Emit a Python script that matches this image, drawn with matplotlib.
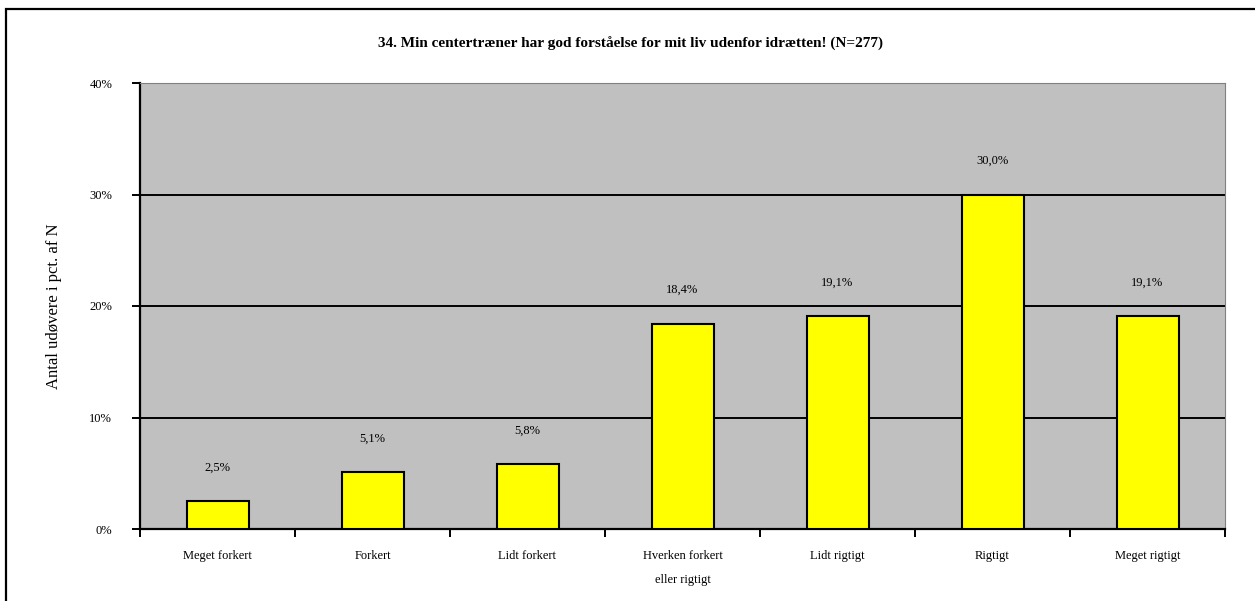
import numpy as np
import matplotlib.pyplot as plt
from matplotlib.patches import Rectangle
from matplotlib.ticker import FixedLocator, NullFormatter

categories = ['Meget forkert', 'Forkert', 'Lidt forkert', 'Hverken forkert\neller rigtigt',
              'Lidt rigtigt', 'Rigtigt', 'Meget rigtigt']
values = [2.5, 5.1, 5.8, 18.4, 19.1, 30.0, 19.1]
value_labels = ['2,5%', '5,1%', '5,8%', '18,4%', '19,1%', '30,0%', '19,1%']
yticks = [0, 10, 20, 30, 40]
ytick_labels = ['0%', '10%', '20%', '30%', '40%']
title = '34. Min centertræner har god forståelse for mit liv udenfor idrætten! (N=277)'
ylabel = 'Antal udøvere i pct. af N'

plt.rcParams['font.family'] = ['Liberation Serif', 'DejaVu Serif']

fig = plt.figure(figsize=(12.55, 6.01), dpi=100)
W, H = 1255, 601
ax = fig.add_axes([140 / W, 1 - 529 / H, (1225 - 140) / W, (529 - 83) / H])

# outer frame of the chart
fig.patches.append(Rectangle((6 / W, -0.05), 1.2, 1 - 9 / H + 0.05, transform=fig.transFigure,
                             fill=False, edgecolor='black', linewidth=1.6))

x = np.arange(len(categories))
ax.set_facecolor('#c0c0c0')
ax.bar(x, values, width=0.4, color='#ffff00', edgecolor='black', linewidth=1.5, zorder=3)
for xi, v, lab in zip(x, values, value_labels):
    ax.annotate(lab, (xi, v), xytext=(0, 20), textcoords='offset points',
                ha='center', va='bottom', fontsize=9)

ax.set_xlim(-0.5, len(categories) - 0.5)
ax.set_ylim(0, 40)
ax.set_yticks(yticks)
ax.set_yticklabels(ytick_labels, fontsize=9)
ax.yaxis.grid(True, color='black', linewidth=1.4, zorder=1)
ax.set_axisbelow(True)

ax.xaxis.set_major_locator(FixedLocator(np.arange(-0.5, len(categories), 1.0)))
ax.xaxis.set_major_formatter(NullFormatter())
ax.xaxis.set_minor_locator(FixedLocator(x))
ax.set_xticklabels(categories, minor=True, fontsize=9, linespacing=2.3, va='top')
ax.tick_params(axis='x', which='minor', length=0, pad=15)
ax.tick_params(axis='x', which='major', length=6, width=1.4, direction='out')
ax.tick_params(axis='y', length=6, width=1.4, direction='out', pad=14)

ax.spines['left'].set_linewidth(1.6)
ax.spines['bottom'].set_linewidth(1.6)
ax.spines['top'].set_color('#808080')
ax.spines['right'].set_color('#808080')

ax.set_ylabel(ylabel, fontsize=12, labelpad=20)
fig.text(630 / W, 1 - 44 / H, title, ha='center', va='center', fontsize=11, fontweight='bold')

fig.savefig('out.png', dpi=100)
